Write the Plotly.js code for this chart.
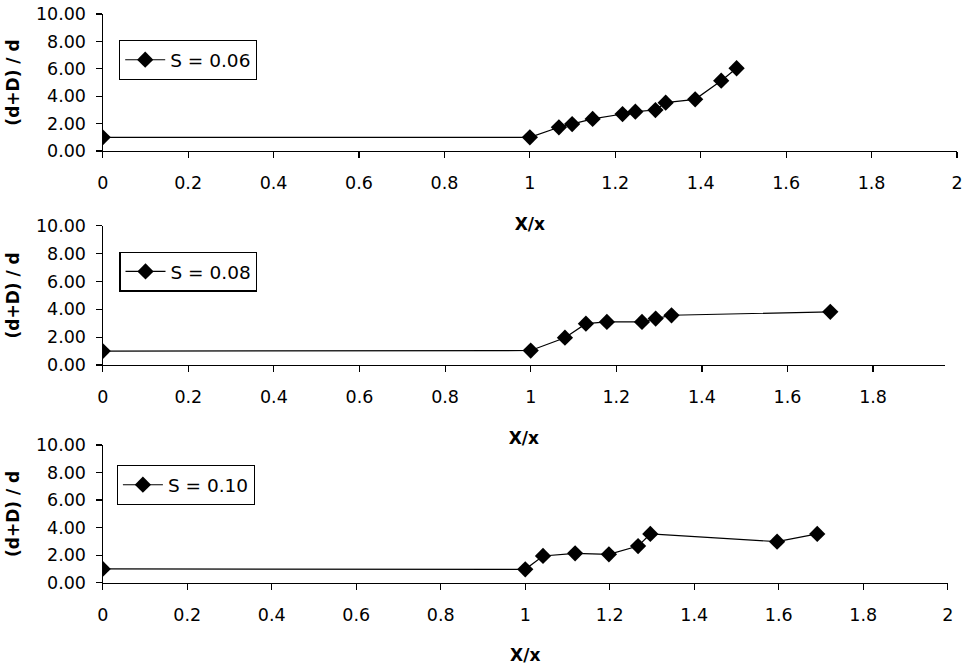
<!DOCTYPE html>
<html>
<head>
<meta charset="utf-8">
<script src="https://cdn.plot.ly/plotly-3.0.1.min.js"></script>
<style>
html,body{margin:0;padding:0;background:#fff;}
#chart{width:966px;height:666px;}
</style>
</head>
<body>
<div id="chart"></div>
<script>
// Series S = 0.06
const x06 = [0, 1.00, 1.068, 1.099, 1.147, 1.217, 1.247, 1.294, 1.318, 1.387, 1.448, 1.484];
const y06 = [1.00, 1.00, 1.73, 1.97, 2.34, 2.70, 2.87, 2.99, 3.53, 3.77, 5.13, 6.04];
// Series S = 0.08
const x08 = [0, 1.00, 1.080, 1.129, 1.178, 1.260, 1.292, 1.329, 1.700];
const y08 = [1.00, 1.04, 1.96, 2.97, 3.09, 3.09, 3.33, 3.57, 3.82];
// Series S = 0.10
const x10 = [0, 1.00, 1.042, 1.118, 1.198, 1.267, 1.296, 1.596, 1.691];
const y10 = [1.00, 0.97, 1.94, 2.13, 2.06, 2.66, 3.54, 2.98, 3.54];

const seriesNames = ['S = 0.06', 'S = 0.08', 'S = 0.10'];
const yTitle = '(d+D) / d';
const xTitle = 'X/x';

const W = 966, H = 666;
const tickFont = {family: 'DejaVu Sans', size: 17.5, color: '#000'};
const legFont = {family: 'DejaVu Sans', size: 18.5, color: '#000'};
const titleFont = {family: 'DejaVu Sans', size: 17, color: '#000', weight: 'bold'};

function mkTrace(x, y, name, i) {
  const sfx = i === 0 ? '' : String(i + 1);
  return {
    x: x, y: y, name: name, type: 'scatter', mode: 'lines+markers',
    xaxis: 'x' + sfx, yaxis: 'y' + sfx,
    legend: 'legend' + sfx,
    line: {color: '#000', width: 1.2},
    marker: {symbol: 'diamond', size: 12.5, color: '#000'},
    showlegend: true
  };
}

const data = [
  mkTrace(x06, y06, seriesNames[0], 0),
  mkTrace(x08, y08, seriesNames[1], 1),
  mkTrace(x10, y10, seriesNames[2], 2)
];

function xa(domEnd, rmax, anchor) {
  return {
    domain: [102.7 / W, domEnd / W], range: [0, rmax], anchor: anchor,
    dtick: 0.2, tick0: 0, showgrid: false, zeroline: false,
    showline: true, linecolor: '#000', linewidth: 1.2,
    ticks: 'outside', ticklen: 6, tickcolor: '#000', tickwidth: 1.2,
    tickfont: tickFont, ticklabelstandoff: 10,
    title: {text: xTitle, font: titleFont, standoff: 25},
    automargin: false
  };
}
function ya(top, bottom, anchor) {
  return {
    domain: [1 - bottom / H, 1 - top / H], range: [0, 10], anchor: anchor,
    dtick: 2, tick0: 0, tickformat: '.2f', showgrid: false, zeroline: false,
    showline: true, linecolor: '#000', linewidth: 1.2,
    ticks: 'outside', ticklen: 6, tickcolor: '#000', tickwidth: 1.2,
    tickfont: tickFont, ticklabelstandoff: 6,
    title: {text: yTitle, font: titleFont, standoff: 12},
    automargin: false
  };
}
function lg(xpx, ypx) {
  return {
    x: xpx / W, y: 1 - ypx / H, xanchor: 'left', yanchor: 'top',
    xref: 'paper', yref: 'paper', itemwidth: 40,
    bgcolor: '#fff', bordercolor: '#000', borderwidth: 1.2,
    font: legFont
  };
}

const layout = {
  width: W, height: H,
  margin: {l: 0, r: 0, t: 0, b: 0},
  paper_bgcolor: '#fff', plot_bgcolor: '#fff',
  font: tickFont,
  xaxis: xa(957, 2, 'y'),
  yaxis: ya(14, 151, 'x'),
  xaxis2: xa(945, 1.968, 'y2'),
  yaxis2: ya(225.7, 365, 'x2'),
  xaxis3: xa(947.8, 2, 'y3'),
  yaxis3: ya(445, 582.7, 'x3'),
  legend: lg(119, 40),
  legend2: lg(119.3, 251.7),
  legend3: lg(116.7, 465)
};

Plotly.newPlot('chart', data, layout, {displayModeBar: false, staticPlot: true});
</script>
</body>
</html>
